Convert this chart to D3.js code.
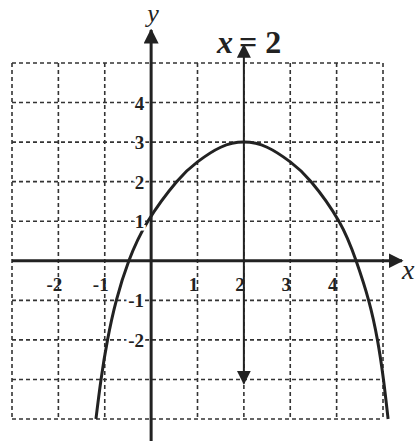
<!DOCTYPE html>
<html>
<head>
<meta charset="utf-8">
<script src="https://cdn.jsdelivr.net/npm/d3@7"></script>
<style>
  body { margin: 0; background: #fff; }
  svg text { font-family: "Liberation Serif", "DejaVu Serif", serif; fill: #222; }
</style>
</head>
<body>
<div id="chart"></div>
<script>
// grid extent and tick labels
const gridX = [-3, -2, -1, 0, 1, 2, 3, 4, 5];
const gridY = [-4, -3, -2, -1, 0, 1, 2, 3, 4, 5];
const xTicks = [-2, -1, 1, 2, 3, 4];
const yTicks = [4, 3, 2, 1, -1, -2];

// parabola, points
const curveX = [-1.19, -1.08, -0.94, -0.75, -0.48, -0.07, 0.55, 1.0, 1.5, 2.0, 2.5, 3.0, 3.45, 4.05, 4.42, 4.69, 4.88, 5.01, 5.11];
const curveY = [-4, -3, -2, -1, 0, 1, 2, 2.5, 2.87, 3.0, 2.87, 2.5, 2, 1, 0, -1, -2, -3, -4];

// axis of symmetry x = 2 (arrow ends)
const symX = 2;
const symEnds = [5.45, -3.1];

const W = 419, H = 441;
const svg = d3.select('#chart').append('svg')
    .attr('width', W)
    .attr('height', H);

const x = d3.scaleLinear().domain([-3, 5]).range([12, 383]);
const y = d3.scaleLinear().domain([-4, 5]).range([419, 63]);

const ink = '#222';

// dashed grid
const grid = svg.append('g')
    .attr('stroke', '#333')
    .attr('stroke-width', 1.6)
    .attr('stroke-dasharray', '4 3');
grid.selectAll('.gx').data(gridX).enter().append('line')
    .attr('x1', d => x(d)).attr('x2', d => x(d))
    .attr('y1', y(5)).attr('y2', y(-4));
grid.selectAll('.gy').data(gridY).enter().append('line')
    .attr('y1', d => y(d)).attr('y2', d => y(d))
    .attr('x1', x(-3)).attr('x2', x(5));

// arrow markers
const defs = svg.append('defs');
defs.append('marker')
    .attr('id', 'arr')
    .attr('viewBox', '0 0 10 10')
    .attr('refX', 9).attr('refY', 5)
    .attr('markerWidth', 5).attr('markerHeight', 5)
    .attr('markerUnits', 'strokeWidth')
    .attr('orient', 'auto-start-reverse')
    .append('path').attr('d', 'M0,0 L10,5 L0,10 z').attr('fill', ink);
defs.append('marker')
    .attr('id', 'arrThin')
    .attr('viewBox', '0 0 10 10')
    .attr('refX', 9).attr('refY', 5)
    .attr('markerWidth', 7).attr('markerHeight', 7)
    .attr('markerUnits', 'strokeWidth')
    .attr('orient', 'auto-start-reverse')
    .append('path').attr('d', 'M0,0 L10,5 L0,10 z').attr('fill', ink);

// axes
svg.append('line')
    .attr('x1', x(-3)).attr('x2', 402)
    .attr('y1', y(0)).attr('y2', y(0))
    .attr('stroke', ink).attr('stroke-width', 3)
    .attr('marker-end', 'url(#arr)');
svg.append('line')
    .attr('x1', x(0)).attr('x2', x(0))
    .attr('y1', H).attr('y2', 30)
    .attr('stroke', ink).attr('stroke-width', 3)
    .attr('marker-end', 'url(#arr)');

// x = 2 line with arrows at both ends
svg.append('line')
    .attr('x1', x(symX)).attr('x2', x(symX))
    .attr('y1', y(symEnds[0])).attr('y2', y(symEnds[1]))
    .attr('stroke', ink).attr('stroke-width', 2)
    .attr('marker-start', 'url(#arrThin)')
    .attr('marker-end', 'url(#arrThin)');

// parabola
const pts = curveX.map((d, i) => [d, curveY[i]]);
svg.append('path')
    .datum(pts)
    .attr('fill', 'none')
    .attr('stroke', ink)
    .attr('stroke-width', 3)
    .attr('d', d3.line().x(d => x(d[0])).y(d => y(d[1])).curve(d3.curveNatural));

// tick labels
svg.selectAll('.xt').data(xTicks).enter().append('text')
    .attr('x', d => x(d) - 4)
    .attr('y', y(0) + 30)
    .attr('text-anchor', 'middle')
    .attr('font-size', 19)
    .attr('font-weight', 'bold')
    .text(d => d);
svg.selectAll('.yt').data(yTicks).enter().append('text')
    .attr('x', x(0) - 7)
    .attr('y', d => y(d) + 7)
    .attr('text-anchor', 'end')
    .attr('font-size', 19)
    .attr('font-weight', 'bold')
    .attr('stroke', '#fff').attr('stroke-width', 5)
    .attr('paint-order', 'stroke')
    .text(d => d);

// axis names
svg.append('text')
    .attr('x', x(0) + 2).attr('y', 22)
    .attr('text-anchor', 'middle')
    .attr('font-size', 26)
    .attr('font-style', 'italic')
    .text('y');
svg.append('text')
    .attr('x', 402).attr('y', 279)
    .attr('font-size', 28)
    .attr('font-style', 'italic')
    .text('x');

// equation label
const eq = svg.append('text')
    .attr('x', 217).attr('y', 53)
    .attr('font-size', 32)
    .attr('font-weight', 'bold');
eq.append('tspan').attr('font-style', 'italic').text('x');
eq.append('tspan').attr('dx', 6).text('= 2');
</script>
</body>
</html>
